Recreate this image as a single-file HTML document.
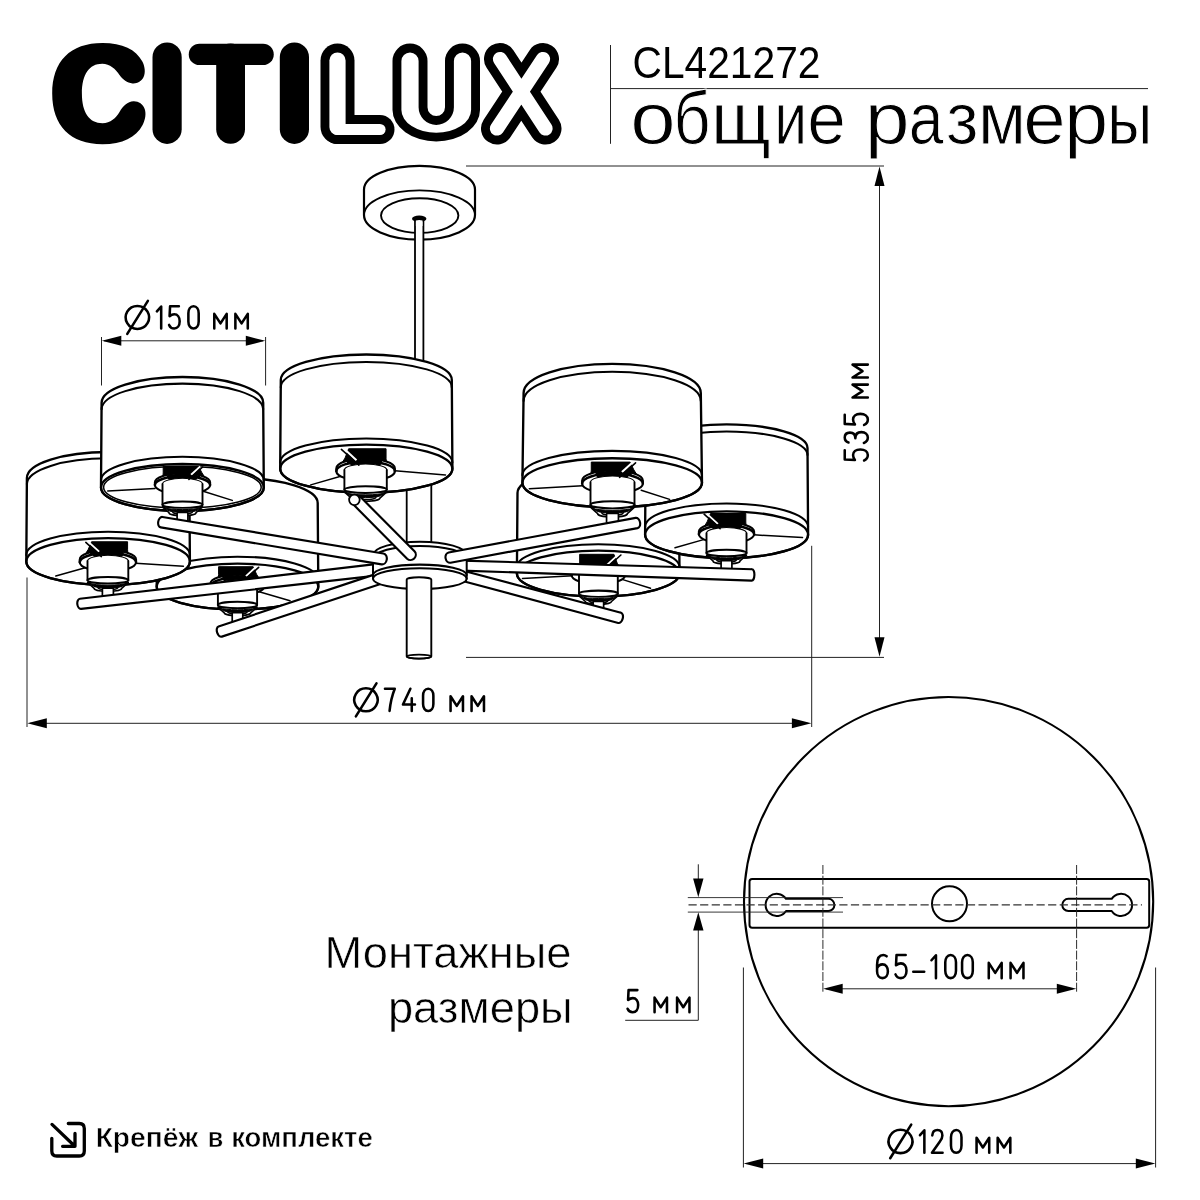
<!DOCTYPE html>
<html lang="ru"><head><meta charset="utf-8"><title>CL421272</title>
<style>
html,body{margin:0;padding:0;background:#fff}
body{width:1200px;height:1200px;overflow:hidden;position:relative}
svg{display:block;position:absolute;left:0;top:0;will-change:transform;filter:grayscale(1)}
text{font-family:"Liberation Sans",sans-serif;fill:#000}
.o{fill:#fff;stroke:#000;stroke-width:2.3;stroke-linejoin:round;stroke-linecap:round}
.l{fill:none;stroke:#000;stroke-width:2.05;stroke-linejoin:round;stroke-linecap:round}
.t{fill:none;stroke:#000;stroke-width:1.5;stroke-linecap:round}
.k{fill:#000;stroke:#000;stroke-width:1;stroke-linejoin:round}
</style></head><body>
<svg width="1200" height="1200" viewBox="0 0 1200 1200">
<rect width="1200" height="1200" fill="#fff"/>

<!-- logo -->
<g fill="none" stroke="#000" stroke-linecap="round" stroke-linejoin="round">
<path fill="#000" stroke="none" d="M102.5,42.9 C122.5,42.9 136,49.5 142.2,61.2 C144.8,66 145.8,72.5 143.6,77 C141.5,81.5 137,83.8 132.5,83.4 C127,83 123,79.5 119.5,75 C115.5,69 110,63.75 102.2,63.75 C89.2,63.75 81.9,74.5 81.9,93.5 C81.9,112.5 89.3,123.2 102.5,123.2 C110.5,123.2 116,118 119.5,112 C123,106 127.5,101.4 133.5,101.2 C138.5,101 143,104 144.7,109 C146.3,113.5 145.4,119.5 142.6,125 C136,137.5 122.5,144.2 102.5,144.2 C70.3,144.2 52.2,125.9 52.2,93.5 C52.2,61.1 70.3,42.9 102.5,42.9 Z"/>
<path d="M167.1,57 L167.1,129.3" stroke-width="29.2"/>
<path d="M199.4,54.4 L263.1,54.4" stroke-width="21.3"/>
<path d="M230.6,58 L230.6,129.3" stroke-width="28.8"/>
<path d="M294.4,57 L294.4,129.3" stroke-width="29.2"/>
<path d="M337.5,60.5 L337.5,127" stroke-width="34"/>
<path d="M337.5,129.5 L380,129.5" stroke-width="29"/>
<path fill="#000" stroke="none" d="M392.5,61 A17.5,17.5 0 0 1 427.5,61 L427.5,107.25 A8.75,8.75 0 0 0 445,107.25 L445,61 A17.5,17.5 0 0 1 480,61 L480,110 A43.75,31.5 0 0 1 392.5,110 Z"/>
<path d="M500,59 L545.5,128.5 M543,59 L497,128.5" stroke-width="32"/>
<path d="M337.5,60.5 L337.5,127" stroke="#fff" stroke-width="16.2"/>
<path d="M337.5,129.5 L380,129.5" stroke="#fff" stroke-width="11.2"/>
<path fill="#fff" stroke="none" d="M401.4,61 A8.6,8.6 0 0 1 418.6,61 L418.6,107.25 A17.65,17.65 0 0 0 453.9,107.25 L453.9,61 A8.6,8.6 0 0 1 471.1,61 L471.1,110 A34.85,22.7 0 0 1 401.4,110 Z"/>
<path d="M500,59 L545.5,128.5 M543,59 L497,128.5" stroke="#fff" stroke-width="14.2"/>
</g>
<!-- header -->
<line x1="610.50" y1="45.00" x2="610.50" y2="143.80" stroke="#222" stroke-width="1.0" />
<line x1="610.50" y1="88.60" x2="1148.00" y2="88.60" stroke="#222" stroke-width="1.0" />
<text x="632.6" y="77.6" font-size="44.4" textLength="187.8" lengthAdjust="spacingAndGlyphs">CL421272</text>
<g font-size="75" stroke="#fff" stroke-width="1.0"><text transform="translate(630.33,144.2) scale(1.0891,1)" style="paint-order:fill stroke">о</text><text transform="translate(673.45,144.2) scale(0.8611,1)" style="paint-order:fill stroke">б</text><text transform="translate(710.88,144.2) scale(0.9687,1)" style="paint-order:fill stroke">щ</text><text transform="translate(774.18,144.2) scale(0.7843,1)" style="paint-order:fill stroke">и</text><text transform="translate(807.22,144.2) scale(0.9263,1)" style="paint-order:fill stroke">е</text><text transform="translate(864.65,144.2) scale(1.0769,1)" style="paint-order:fill stroke">р</text><text transform="translate(908.75,144.2) scale(0.8333,1)" style="paint-order:fill stroke">а</text><text transform="translate(946.08,144.2) scale(0.9465,1)" style="paint-order:fill stroke">з</text><text transform="translate(977.96,144.2) scale(0.9309,1)" style="paint-order:fill stroke">м</text><text transform="translate(1023.20,144.2) scale(1.0175,1)" style="paint-order:fill stroke">е</text><text transform="translate(1063.97,144.2) scale(1.0623,1)" style="paint-order:fill stroke">р</text><text transform="translate(1107.17,144.2) scale(0.8376,1)" style="paint-order:fill stroke">ы</text></g>
<!-- dimension lines -->
<line x1="466.00" y1="166.00" x2="884.00" y2="166.00" stroke="#222" stroke-width="1.0" />
<line x1="466.00" y1="657.40" x2="884.00" y2="657.40" stroke="#222" stroke-width="1.0" />
<line x1="879.50" y1="170.00" x2="879.50" y2="653.00" stroke="#222" stroke-width="1.0" />
<polygon points="879.50,166.60 884.50,186.10 874.50,186.10" fill="#000"/>
<polygon points="879.50,656.80 874.50,637.30 884.50,637.30" fill="#000"/>
<line x1="27.00" y1="577.50" x2="27.00" y2="727.00" stroke="#222" stroke-width="1.0" />
<line x1="811.70" y1="545.80" x2="811.70" y2="727.00" stroke="#222" stroke-width="1.0" />
<line x1="30.00" y1="723.30" x2="808.00" y2="723.30" stroke="#222" stroke-width="1.0" />
<polygon points="27.30,723.30 46.80,718.30 46.80,728.30" fill="#000"/>
<polygon points="811.40,723.30 791.90,728.30 791.90,718.30" fill="#000"/>
<line x1="101.50" y1="337.00" x2="101.50" y2="385.50" stroke="#222" stroke-width="1.0" />
<line x1="265.60" y1="337.00" x2="265.60" y2="385.50" stroke="#222" stroke-width="1.0" />
<line x1="104.00" y1="340.80" x2="263.00" y2="340.80" stroke="#222" stroke-width="1.0" />
<polygon points="101.80,340.80 121.30,335.80 121.30,345.80" fill="#000"/>
<polygon points="265.30,340.80 245.80,345.80 245.80,335.80" fill="#000"/>
<g fill="none" stroke="#000" stroke-width="2.55" stroke-linecap="round" stroke-linejoin="round"><path transform="translate(125.68,306.33) scale(1.0)" vector-effect="non-scaling-stroke" d="M11.7,-0.40000000000000036 A11.7,11.5 0 1 1 11.69,-0.40000000000000036 Z M1.6,27.6 L22.2,-5.4"/><path transform="translate(156.88,306.33) scale(1.0)" vector-effect="non-scaling-stroke" d="M0,5.0 L4.3,0.2 L4.3,22.2"/><path transform="translate(169.08,306.33) scale(1.0)" vector-effect="non-scaling-stroke" d="M9.8,0 L1.0,0 L0.5,9.8 C2,8.6 3.6,8 5.2,8 C8.4,8 10.6,10.6 10.6,15 C10.6,19.4 8.4,22.2 5.2,22.2 C2.8,22.2 0.9,20.8 0,18.6"/><path transform="translate(188.38,306.33) scale(1.0)" vector-effect="non-scaling-stroke" d="M5.15,0 C8.3,0 10.3,3 10.3,7 L10.3,15.2 C10.3,19.2 8.3,22.2 5.15,22.2 C2,22.2 0,19.2 0,15.2 L0,7 C0,3 2,0 5.15,0 Z"/><path transform="translate(214.28,306.33) scale(1.0)" vector-effect="non-scaling-stroke" d="M0,22.2 L0,7.5 L6.2,17.1 L12.4,7.5 L12.4,22.2"/><path transform="translate(235.38,306.33) scale(1.0)" vector-effect="non-scaling-stroke" d="M0,22.2 L0,7.5 L6.2,17.1 L12.4,7.5 L12.4,22.2"/></g>
<g fill="none" stroke="#000" stroke-width="2.55" stroke-linecap="round" stroke-linejoin="round"><path transform="translate(354.27,688.73) scale(1.0)" vector-effect="non-scaling-stroke" d="M11.7,-0.40000000000000036 A11.7,11.5 0 1 1 11.69,-0.40000000000000036 Z M1.6,27.6 L22.2,-5.4"/><path transform="translate(384.97,688.73) scale(1.0)" vector-effect="non-scaling-stroke" d="M0,0 L9.8,0 C7.4,6 5.4,14 4.6,22.2"/><path transform="translate(402.97,688.73) scale(1.0)" vector-effect="non-scaling-stroke" d="M7.4,0 L0,15.8 L12.0,15.8 M8.8,9.6 L8.8,22.2"/><path transform="translate(423.07,688.73) scale(1.0)" vector-effect="non-scaling-stroke" d="M5.15,0 C8.3,0 10.3,3 10.3,7 L10.3,15.2 C10.3,19.2 8.3,22.2 5.15,22.2 C2,22.2 0,19.2 0,15.2 L0,7 C0,3 2,0 5.15,0 Z"/><path transform="translate(450.57,688.73) scale(1.0)" vector-effect="non-scaling-stroke" d="M0,22.2 L0,7.5 L6.2,17.1 L12.4,7.5 L12.4,22.2"/><path transform="translate(471.57,688.73) scale(1.0)" vector-effect="non-scaling-stroke" d="M0,22.2 L0,7.5 L6.2,17.1 L12.4,7.5 L12.4,22.2"/></g>
<g transform="translate(869.1,461.8) rotate(-90)"><g fill="none" stroke="#000" stroke-width="2.55" stroke-linecap="round" stroke-linejoin="round"><path transform="translate(1.27,-24.36) scale(1.04)" vector-effect="non-scaling-stroke" d="M9.8,0 L1.0,0 L0.5,9.8 C2,8.6 3.6,8 5.2,8 C8.4,8 10.6,10.6 10.6,15 C10.6,19.4 8.4,22.2 5.2,22.2 C2.8,22.2 0.9,20.8 0,18.6"/><path transform="translate(18.88,-24.36) scale(1.04)" vector-effect="non-scaling-stroke" d="M0.4,3.6 C1.2,1.2 3,0 5.2,0 C8,0 9.9,1.9 9.9,5 C9.9,8.2 7.8,10.2 4.6,10.2 C8.2,10.2 10.4,12.4 10.4,16 C10.4,19.8 8.2,22.2 5.1,22.2 C2.6,22.2 0.8,20.8 0,18.4"/><path transform="translate(36.88,-24.36) scale(1.04)" vector-effect="non-scaling-stroke" d="M9.8,0 L1.0,0 L0.5,9.8 C2,8.6 3.6,8 5.2,8 C8.4,8 10.6,10.6 10.6,15 C10.6,19.4 8.4,22.2 5.2,22.2 C2.8,22.2 0.9,20.8 0,18.6"/><path transform="translate(64.28,-24.36) scale(1.04)" vector-effect="non-scaling-stroke" d="M0,22.2 L0,7.5 L6.2,17.1 L12.4,7.5 L12.4,22.2"/><path transform="translate(84.28,-24.36) scale(1.04)" vector-effect="non-scaling-stroke" d="M0,22.2 L0,7.5 L6.2,17.1 L12.4,7.5 L12.4,22.2"/></g></g>
<!-- chandelier -->
<path class="o" style="stroke-width:2.2" d="M364,189.5 A55.5,23.6 0 0 1 475,189.5 L475,215 A55.5,24.6 0 0 1 364,215 Z"/>
<path class="l" style="stroke-width:1.9" d="M364,215 A55.5,24.6 0 0 1 475,215"/>
<ellipse class="l" style="stroke-width:1.9" cx="419.7" cy="215.6" rx="38.7" ry="17.3"/>
<rect x="415" y="219" width="8.4" height="150" fill="#fff" stroke="none"/>
<path class="l" style="stroke-width:1.8" d="M415,219 L415,370 M423.4,219 L423.4,370"/>
<ellipse cx="419.2" cy="218.8" rx="7.2" ry="3.2" fill="#000" stroke="none"/>
<path d="M415.9,226 L415.9,220.6 Q419.2,219.2 422.5,220.6 L422.5,226 Z" fill="#fff" stroke="none"/>
<rect x="406.7" y="470" width="24.6" height="90" fill="#fff" stroke="none"/>
<path class="l" style="stroke-width:1.8" d="M406.7,470 L406.7,556 M431.3,470 L431.3,556"/>
<path class="o" style="stroke-width:2.35" d="M157.30,503.00 A80.20,25.00 0 0 1 317.70,503.00 L318.30,586.60 A80.80,22.90 0 0 1 156.70,586.60 Z"/><ellipse class="l" cx="237.50" cy="586.60" rx="80.80" ry="22.90" style="stroke-width:2.35"/><path class="l" d="M156.70,579.60 A80.80,22.90 0 0 1 318.30,579.60"/>
<line class="t" x1="259.2" y1="591.7" x2="290" y2="600.8"/><path class="o" style="stroke-width:1.6" d="M217.90,607.12 L224.27,612.80 A13.23,2.94 0 0 0 250.73,612.80 L257.10,607.12 Z"/><path class="k" d="M219.40,607.71 A19.60,3.33 0 0 0 255.60,607.71 L251.71,610.45 A14.60,2.74 0 0 1 223.29,610.45 Z"/><path class="t" d="M227.90,612.02 A9.60,2.16 0 0 0 247.10,612.02"/><path class="o" style="stroke-width:1.7" d="M232.21,622.00 L232.21,613.59 Q232.21,612.61 233.21,612.61 L241.79,612.61 Q242.79,612.61 242.79,613.59 L242.79,622.00"/><path class="k" d="M253.18,566.70 L218.59,566.70 L218.59,574.39 L218.10,580.66 L260.53,580.66 L256.51,574.19 Z"/><path class="o" style="stroke-width:2.1" d="M210.45,583.60 A27.05,8.82 0 0 1 264.55,583.60 L264.55,586.34 A27.05,8.82 0 0 1 210.45,586.34 Z"/><polygon points="254.65,577.08 252.63,576.59 250.61,576.18 248.59,575.85 246.56,575.59 244.54,575.38 242.52,575.23 240.50,575.13 238.48,575.09 236.46,575.09 234.44,575.14 232.42,575.24 230.40,575.39 228.37,575.60 226.35,575.86 224.33,576.20 222.31,576.60 222.31,579.05 224.33,581.30 226.35,580.85 228.37,580.51 230.40,580.25 232.42,580.07 234.44,579.95 236.46,579.89 238.48,579.89 240.50,579.94 242.52,580.06 244.54,580.25 246.56,580.50 248.59,580.84 250.61,581.29 252.63,579.03 254.65,579.52" fill="#000"/><line x1="256.19" y1="566.80" x2="245.93" y2="576.15" stroke="#fff" stroke-width="1.86"/><path class="l" style="stroke-width:2.5" d="M210.45,586.34 A27.05,8.82 0 0 1 264.55,586.34"/><path d="M217.90,585.17 L217.90,604.96 A19.60,3.14 0 0 0 257.10,604.96 L257.10,585.17 A19.60,5.49 0 0 0 217.90,585.17 Z" fill="#fff" stroke="none"/><path class="l" style="stroke-width:1.9" d="M217.90,585.17 L217.90,604.96 A19.60,3.14 0 0 0 257.10,604.96 L257.10,585.17"/><path class="l" style="stroke-width:1.1" d="M217.90,585.17 A19.60,5.49 0 0 1 257.10,585.17"/><path class="l" style="stroke-width:2.1" d="M217.90,604.96 A19.60,3.14 0 0 1 257.10,604.96"/><line x1="258.62" y1="567.40" x2="243.77" y2="580.86" stroke="#000" stroke-width="1.6" stroke-linecap="round"/>
<path class="o" style="stroke-width:2.35" d="M517.50,493.00 A80.70,25.00 0 0 1 678.90,493.00 L679.50,573.60 A81.30,22.90 0 0 1 516.90,573.60 Z"/><ellipse class="l" cx="598.20" cy="573.60" rx="81.30" ry="22.90" style="stroke-width:2.35"/><path class="l" d="M516.90,567.15 A81.30,22.90 0 0 1 679.50,567.15"/>
<line class="t" x1="522.5" y1="578.5" x2="577.2" y2="575.4"/><line class="t" x1="621.2" y1="579.1" x2="650.5" y2="588.25"/><path class="o" style="stroke-width:1.6" d="M579.00,595.88 L585.30,601.50 A13.09,2.91 0 0 0 611.50,601.50 L617.80,595.88 Z"/><path class="k" d="M580.50,596.46 A19.40,3.30 0 0 0 616.30,596.46 L612.46,599.17 A14.40,2.72 0 0 1 584.34,599.17 Z"/><path class="t" d="M588.89,600.73 A9.51,2.13 0 0 0 607.91,600.73"/><path class="o" style="stroke-width:1.7" d="M593.16,611.00 L593.16,602.28 Q593.16,601.31 594.16,601.31 L602.64,601.31 Q603.64,601.31 603.64,602.28 L603.64,611.00"/><path class="k" d="M613.92,554.30 L579.68,554.30 L579.68,563.38 L579.19,569.59 L621.19,569.59 L617.22,563.19 Z"/><path class="o" style="stroke-width:2.1" d="M571.63,572.50 A26.77,8.73 0 0 1 625.17,572.50 L625.17,575.22 A26.77,8.73 0 0 1 571.63,575.22 Z"/><polygon points="615.38,566.05 613.37,565.56 611.37,565.16 609.37,564.84 607.37,564.57 605.37,564.37 603.37,564.22 601.37,564.12 599.37,564.08 597.37,564.08 595.37,564.13 593.37,564.23 591.37,564.38 589.37,564.58 587.37,564.85 585.37,565.17 583.37,565.58 583.37,567.99 585.37,570.23 587.37,569.78 589.37,569.44 591.37,569.19 593.37,569.01 595.37,568.89 597.37,568.83 599.37,568.83 601.37,568.88 603.37,569.00 605.37,569.18 607.37,569.44 609.37,569.77 611.37,570.21 613.37,567.98 615.38,568.47" fill="#000"/><line x1="618.51" y1="554.40" x2="606.74" y2="565.13" stroke="#fff" stroke-width="1.84"/><path class="l" style="stroke-width:2.5" d="M571.63,575.22 A26.77,8.73 0 0 1 625.17,575.22"/><path d="M579.00,574.05 L579.00,593.74 A19.40,3.10 0 0 0 617.80,593.74 L617.80,574.05 A19.40,5.43 0 0 0 579.00,574.05 Z" fill="#fff" stroke="none"/><path class="l" style="stroke-width:1.9" d="M579.00,574.05 L579.00,593.74 A19.40,3.10 0 0 0 617.80,593.74 L617.80,574.05"/><path class="l" style="stroke-width:1.1" d="M579.00,574.05 A19.40,5.43 0 0 1 617.80,574.05"/><path class="l" style="stroke-width:2.1" d="M579.00,593.74 A19.40,3.10 0 0 1 617.80,593.74"/><line x1="620.92" y1="555.00" x2="604.61" y2="569.78" stroke="#000" stroke-width="1.6" stroke-linecap="round"/>
<path class="o" style="stroke-width:2.35" d="M26.90,478.00 A81.20,26.00 0 0 1 189.30,478.00 L189.90,561.50 A81.80,23.40 0 0 1 26.30,561.50 Z"/><path class="l" d="M26.90,484.30 A81.20,26.00 0 0 1 189.30,484.30"/><ellipse class="l" cx="108.10" cy="561.50" rx="81.80" ry="23.40" style="stroke-width:2.35"/><path class="l" d="M26.30,555.10 A81.80,23.40 0 0 1 189.90,555.10"/>
<line class="t" x1="55.8" y1="576" x2="85.2" y2="567.8"/><line class="t" x1="135.6" y1="563.2" x2="183.4" y2="566.3"/><path class="o" style="stroke-width:1.6" d="M87.50,582.45 L94.13,588.37 A13.77,3.06 0 0 0 121.67,588.37 L128.30,582.45 Z"/><path class="k" d="M89.00,583.06 A20.40,3.47 0 0 0 126.80,583.06 L122.69,585.92 A15.40,2.86 0 0 1 93.11,585.92 Z"/><path class="t" d="M97.90,587.55 A10.00,2.24 0 0 0 117.90,587.55"/><path class="o" style="stroke-width:1.7" d="M102.39,598.00 L102.39,589.18 Q102.39,588.16 103.39,588.16 L112.41,588.16 Q113.41,588.16 113.41,589.18 L113.41,598.00"/><path class="k" d="M91.58,541.75 L127.59,541.75 L127.59,549.81 L128.10,556.34 L83.93,556.34 L88.11,549.61 Z"/><path class="o" style="stroke-width:2.1" d="M79.75,559.40 A28.15,9.18 0 0 1 136.05,559.40 L136.05,562.26 A28.15,9.18 0 0 1 79.75,562.26 Z"/><polygon points="90.05,552.60 92.15,552.09 94.26,551.67 96.36,551.33 98.47,551.05 100.57,550.84 102.67,550.68 104.78,550.58 106.88,550.53 108.98,550.53 111.09,550.58 113.19,550.68 115.30,550.84 117.40,551.06 119.50,551.34 121.61,551.68 123.71,552.10 123.71,554.66 121.61,557.00 119.50,556.53 117.40,556.18 115.30,555.91 113.19,555.72 111.09,555.59 108.98,555.53 106.88,555.53 104.78,555.59 102.67,555.71 100.57,555.90 98.47,556.17 96.36,556.52 94.26,556.99 92.15,554.65 90.05,555.16" fill="#000"/><line x1="88.38" y1="541.85" x2="99.13" y2="551.65" stroke="#fff" stroke-width="1.94"/><path class="l" style="stroke-width:2.5" d="M79.75,562.26 A28.15,9.18 0 0 1 136.05,562.26"/><path d="M87.50,561.03 L87.50,580.21 A20.40,3.26 0 0 0 128.30,580.21 L128.30,561.03 A20.40,5.71 0 0 0 87.50,561.03 Z" fill="#fff" stroke="none"/><path class="l" style="stroke-width:1.9" d="M87.50,561.03 L87.50,580.21 A20.40,3.26 0 0 0 128.30,580.21 L128.30,561.03"/><path class="l" style="stroke-width:1.1" d="M87.50,561.03 A20.40,5.71 0 0 1 128.30,561.03"/><path class="l" style="stroke-width:2.1" d="M87.50,580.21 A20.40,3.26 0 0 1 128.30,580.21"/><line x1="85.82" y1="542.45" x2="101.37" y2="556.54" stroke="#000" stroke-width="1.6" stroke-linecap="round"/>
<path class="o" style="stroke-width:2.35" d="M645.70,448.00 A80.90,23.60 0 0 1 807.50,448.00 L808.10,534.70 A81.50,23.40 0 0 1 645.10,534.70 Z"/><path class="l" d="M645.70,455.10 A80.90,23.60 0 0 1 807.50,455.10"/><ellipse class="l" cx="726.60" cy="534.70" rx="81.50" ry="23.40" style="stroke-width:2.35"/><path class="l" d="M645.10,526.85 A81.50,23.40 0 0 1 808.10,526.85"/>
<line class="t" x1="675" y1="547.7" x2="704.4" y2="539.4"/><line class="t" x1="753.9" y1="534.8" x2="802.5" y2="537.6"/><path class="o" style="stroke-width:1.6" d="M706.50,555.10 L713.00,560.90 A13.50,3.00 0 0 0 740.00,560.90 L746.50,555.10 Z"/><path class="k" d="M708.00,555.70 A20.00,3.40 0 0 0 745.00,555.70 L741.00,558.50 A15.00,2.80 0 0 1 712.00,558.50 Z"/><path class="t" d="M716.70,560.10 A9.80,2.20 0 0 0 736.30,560.10"/><path class="o" style="stroke-width:1.7" d="M721.10,570.00 L721.10,561.70 Q721.10,560.70 722.10,560.70 L730.90,560.70 Q731.90,560.70 731.90,561.70 L731.90,570.00"/><path class="k" d="M710.50,513.50 L745.80,513.50 L745.80,522.10 L746.30,528.50 L703.00,528.50 L707.10,521.90 Z"/><path class="o" style="stroke-width:2.1" d="M698.90,531.50 A27.60,9.00 0 0 1 754.10,531.50 L754.10,534.30 A27.60,9.00 0 0 1 698.90,534.30 Z"/><polygon points="709.00,524.84 711.06,524.34 713.12,523.93 715.19,523.59 717.25,523.32 719.31,523.11 721.38,522.96 723.44,522.86 725.50,522.81 727.56,522.81 729.62,522.86 731.69,522.96 733.75,523.12 735.81,523.33 737.88,523.60 739.94,523.94 742.00,524.35 742.00,526.85 739.94,529.15 737.88,528.69 735.81,528.34 733.75,528.08 731.69,527.89 729.62,527.77 727.56,527.71 725.50,527.71 723.44,527.77 721.38,527.89 719.31,528.07 717.25,528.33 715.19,528.68 713.12,529.14 711.06,526.84 709.00,527.34" fill="#000"/><line x1="706.60" y1="513.60" x2="717.90" y2="523.90" stroke="#fff" stroke-width="1.90"/><path class="l" style="stroke-width:2.5" d="M698.90,534.30 A27.60,9.00 0 0 1 754.10,534.30"/><path d="M706.50,533.10 L706.50,552.90 A20.00,3.20 0 0 0 746.50,552.90 L746.50,533.10 A20.00,5.60 0 0 0 706.50,533.10 Z" fill="#fff" stroke="none"/><path class="l" style="stroke-width:1.9" d="M706.50,533.10 L706.50,552.90 A20.00,3.20 0 0 0 746.50,552.90 L746.50,533.10"/><path class="l" style="stroke-width:1.1" d="M706.50,533.10 A20.00,5.60 0 0 1 746.50,533.10"/><path class="l" style="stroke-width:2.1" d="M706.50,552.90 A20.00,3.20 0 0 1 746.50,552.90"/><line x1="704.10" y1="514.20" x2="720.10" y2="528.70" stroke="#000" stroke-width="1.6" stroke-linecap="round"/>
<path class="o" style="stroke-width:2.35" d="M101.60,402.70 A80.80,25.70 0 0 1 263.20,402.70 L263.80,487.50 A81.40,23.50 0 0 1 101.00,487.50 Z"/><path class="l" d="M101.60,409.30 A80.80,25.70 0 0 1 263.20,409.30"/><ellipse class="l" cx="182.40" cy="487.50" rx="81.40" ry="23.50" style="stroke-width:2.35"/><path class="l" d="M101.00,480.30 A81.40,23.50 0 0 1 263.80,480.30"/><ellipse class="l" cx="182.40" cy="487.20" rx="78.80" ry="20.90" style="stroke-width:1.5"/>
<line class="t" x1="107.75" y1="490.9" x2="155" y2="488.6"/><line class="t" x1="203.2" y1="491.3" x2="232.3" y2="500.4"/><path class="o" style="stroke-width:1.6" d="M162.50,506.90 L169.00,512.70 A13.50,3.00 0 0 0 196.00,512.70 L202.50,506.90 Z"/><path class="k" d="M164.00,507.50 A20.00,3.40 0 0 0 201.00,507.50 L197.00,510.30 A15.00,2.80 0 0 1 168.00,510.30 Z"/><path class="t" d="M172.70,511.90 A9.80,2.20 0 0 0 192.30,511.90"/><path class="o" style="stroke-width:1.7" d="M177.10,521.00 L177.10,513.50 Q177.10,512.50 178.10,512.50 L186.90,512.50 Q187.90,512.50 187.90,513.50 L187.90,521.00"/><path class="k" d="M198.50,466.30 L163.20,466.30 L163.20,472.90 L162.70,479.30 L206.00,479.30 L201.90,472.70 Z"/><path class="o" style="stroke-width:2.1" d="M154.90,482.30 A27.60,9.00 0 0 1 210.10,482.30 L210.10,485.10 A27.60,9.00 0 0 1 154.90,485.10 Z"/><polygon points="200.00,475.64 197.94,475.14 195.88,474.73 193.81,474.39 191.75,474.12 189.69,473.91 187.62,473.76 185.56,473.66 183.50,473.61 181.44,473.61 179.38,473.66 177.31,473.76 175.25,473.92 173.19,474.13 171.12,474.40 169.06,474.74 167.00,475.15 167.00,477.65 169.06,479.95 171.12,479.49 173.19,479.14 175.25,478.88 177.31,478.69 179.38,478.57 181.44,478.51 183.50,478.51 185.56,478.57 187.62,478.69 189.69,478.87 191.75,479.13 193.81,479.48 195.88,479.94 197.94,477.64 200.00,478.14" fill="#000"/><line x1="200.20" y1="466.40" x2="191.10" y2="474.70" stroke="#fff" stroke-width="1.90"/><path class="l" style="stroke-width:2.5" d="M154.90,485.10 A27.60,9.00 0 0 1 210.10,485.10"/><path d="M162.50,483.90 L162.50,504.70 A20.00,3.20 0 0 0 202.50,504.70 L202.50,483.90 A20.00,5.60 0 0 0 162.50,483.90 Z" fill="#fff" stroke="none"/><path class="l" style="stroke-width:1.9" d="M162.50,483.90 L162.50,504.70 A20.00,3.20 0 0 0 202.50,504.70 L202.50,483.90"/><path class="l" style="stroke-width:1.1" d="M162.50,483.90 A20.00,5.60 0 0 1 202.50,483.90"/><path class="l" style="stroke-width:2.1" d="M162.50,504.70 A20.00,3.20 0 0 1 202.50,504.70"/><line x1="202.70" y1="467.00" x2="188.90" y2="479.50" stroke="#000" stroke-width="1.6" stroke-linecap="round"/>
<path class="o" style="stroke-width:2.35" d="M523.60,393.00 A88.60,29.20 0 0 1 700.80,393.00 L702.00,482.75 A89.80,24.50 0 0 1 522.40,482.75 Z"/><path class="l" d="M523.60,400.90 A88.60,29.20 0 0 1 700.80,400.90"/><ellipse class="l" cx="612.20" cy="482.75" rx="89.80" ry="24.50" style="stroke-width:2.35"/><path class="l" d="M522.40,475.35 A89.80,24.50 0 0 1 702.00,475.35"/>
<line class="t" x1="529.3" y1="488.8" x2="582.5" y2="485.7"/><line class="t" x1="641.2" y1="490.25" x2="669.6" y2="499.4"/><path class="o" style="stroke-width:1.6" d="M590.50,507.24 L597.65,513.62 A14.85,3.30 0 0 0 627.35,513.62 L634.50,507.24 Z"/><path class="k" d="M592.00,507.90 A22.00,3.74 0 0 0 633.00,507.90 L628.45,510.98 A17.00,3.08 0 0 1 596.55,510.98 Z"/><path class="t" d="M601.72,512.74 A10.78,2.42 0 0 0 623.28,512.74"/><path class="o" style="stroke-width:1.7" d="M606.56,522.00 L606.56,514.50 Q606.56,513.40 607.56,513.40 L617.44,513.40 Q618.44,513.40 618.44,514.50 L618.44,522.00"/><path class="k" d="M630.10,462.10 L591.27,462.10 L591.27,470.06 L590.72,477.10 L638.35,477.10 L633.84,469.84 Z"/><path class="o" style="stroke-width:2.1" d="M582.14,480.40 A30.36,9.90 0 0 1 642.86,480.40 L642.86,483.48 A30.36,9.90 0 0 1 582.14,483.48 Z"/><polygon points="631.75,473.04 629.48,472.49 627.21,472.04 624.94,471.67 622.67,471.37 620.41,471.14 618.14,470.97 615.87,470.86 613.60,470.81 611.33,470.81 609.06,470.86 606.79,470.98 604.52,471.15 602.26,471.38 599.99,471.68 597.72,472.05 595.45,472.51 595.45,475.29 597.72,477.80 599.99,477.29 602.26,476.91 604.52,476.62 606.79,476.41 609.06,476.28 611.33,476.21 613.60,476.21 615.87,476.27 618.14,476.41 620.41,476.61 622.67,476.90 624.94,477.28 627.21,477.78 629.48,475.27 631.75,475.82" fill="#000"/><line x1="632.75" y1="462.20" x2="621.96" y2="472.04" stroke="#fff" stroke-width="2.09"/><path class="l" style="stroke-width:2.5" d="M582.14,483.48 A30.36,9.90 0 0 1 642.86,483.48"/><path d="M590.50,482.16 L590.50,504.82 A22.00,3.52 0 0 0 634.50,504.82 L634.50,482.16 A22.00,6.16 0 0 0 590.50,482.16 Z" fill="#fff" stroke="none"/><path class="l" style="stroke-width:1.9" d="M590.50,482.16 L590.50,504.82 A22.00,3.52 0 0 0 634.50,504.82 L634.50,482.16"/><path class="l" style="stroke-width:1.1" d="M590.50,482.16 A22.00,6.16 0 0 1 634.50,482.16"/><path class="l" style="stroke-width:2.1" d="M590.50,504.82 A22.00,3.52 0 0 1 634.50,504.82"/><line x1="635.57" y1="462.80" x2="619.54" y2="477.32" stroke="#000" stroke-width="1.6" stroke-linecap="round"/>
<path class="o" style="stroke-width:2.35" d="M280.80,380.00 A85.50,25.50 0 0 1 451.80,380.00 L452.40,468.70 A86.10,24.10 0 0 1 280.20,468.70 Z"/><path class="l" d="M280.80,387.40 A85.50,25.50 0 0 1 451.80,387.40"/><ellipse class="l" cx="366.30" cy="468.70" rx="86.10" ry="24.10" style="stroke-width:2.35"/><path class="l" d="M280.20,462.60 A86.10,24.10 0 0 1 452.40,462.60"/>
<line class="t" x1="310.75" y1="484.9" x2="342.5" y2="475.8"/><line class="t" x1="395" y1="470.8" x2="445.5" y2="474.9"/><path class="o" style="stroke-width:1.6" d="M344.40,491.94 L351.29,498.09 A14.31,3.18 0 0 0 379.91,498.09 L386.80,491.94 Z"/><path class="k" d="M345.90,492.58 A21.20,3.60 0 0 0 385.30,492.58 L380.97,495.55 A16.20,2.97 0 0 1 350.23,495.55 Z"/><path class="t" d="M355.21,497.24 A10.39,2.33 0 0 0 375.99,497.24"/><path class="k" d="M348.64,448.75 L386.06,448.75 L386.06,458.24 L386.59,465.02 L340.69,465.02 L345.04,458.02 Z"/><path class="o" style="stroke-width:2.1" d="M336.34,468.20 A29.26,9.54 0 0 1 394.86,468.20 L394.86,471.17 A29.26,9.54 0 0 1 336.34,471.17 Z"/><polygon points="347.05,461.12 349.24,460.59 351.42,460.16 353.61,459.80 355.80,459.51 357.98,459.29 360.17,459.13 362.35,459.02 364.54,458.97 366.73,458.97 368.91,459.02 371.10,459.13 373.29,459.30 375.47,459.52 377.66,459.81 379.84,460.17 382.03,460.61 382.03,463.27 379.84,465.70 377.66,465.21 375.47,464.84 373.29,464.56 371.10,464.36 368.91,464.23 366.73,464.17 364.54,464.17 362.35,464.23 360.17,464.36 357.98,464.56 355.80,464.83 353.61,465.20 351.42,465.68 349.24,463.26 347.05,463.79" fill="#000"/><line x1="344.09" y1="448.85" x2="356.48" y2="460.14" stroke="#fff" stroke-width="2.01"/><path class="l" style="stroke-width:2.5" d="M336.34,471.17 A29.26,9.54 0 0 1 394.86,471.17"/><path d="M344.40,469.90 L344.40,489.61 A21.20,3.39 0 0 0 386.80,489.61 L386.80,469.90 A21.20,5.94 0 0 0 344.40,469.90 Z" fill="#fff" stroke="none"/><path class="l" style="stroke-width:1.9" d="M344.40,469.90 L344.40,489.61 A21.20,3.39 0 0 0 386.80,489.61 L386.80,469.90"/><path class="l" style="stroke-width:1.1" d="M344.40,469.90 A21.20,5.94 0 0 1 386.80,469.90"/><path class="l" style="stroke-width:2.1" d="M344.40,489.61 A21.20,3.39 0 0 1 386.80,489.61"/><line x1="341.40" y1="449.45" x2="358.82" y2="465.23" stroke="#000" stroke-width="1.6" stroke-linecap="round"/>
<path d="M81.08,608.87 L376.66,575.66 L375.34,564.14 L79.92,598.73 A3.20,5.10 -6.54 0 0 81.08,608.87 Z" fill="#fff" stroke="none"/><path d="M81.08,608.87 L376.66,575.66 M375.34,564.14 L79.92,598.73 A3.20,5.10 -6.54 0 0 81.08,608.87" fill="none" stroke="#000" stroke-width="2.15" stroke-linecap="round" stroke-linejoin="round"/>
<path d="M221.87,636.63 L379.74,584.32 L376.26,573.88 L218.53,626.57 A3.20,5.30 -18.40 0 0 221.87,636.63 Z" fill="#fff" stroke="none"/><path d="M221.87,636.63 L379.74,584.32 M376.26,573.88 L218.53,626.57 A3.20,5.30 -18.40 0 0 221.87,636.63" fill="none" stroke="#000" stroke-width="2.15" stroke-linecap="round" stroke-linejoin="round"/>
<path d="M751.98,569.20 L462.16,560.60 L461.84,570.60 L751.62,580.60 A2.60,5.70 -178.16 0 0 751.98,569.20 Z" fill="#fff" stroke="none"/><path d="M751.98,569.20 L462.16,560.60 M461.84,570.60 L751.62,580.60 A2.60,5.70 -178.16 0 0 751.98,569.20" fill="none" stroke="#000" stroke-width="2.15" stroke-linecap="round" stroke-linejoin="round"/>
<path d="M620.97,612.68 L463.29,570.77 L460.71,580.43 L618.23,622.92 A3.20,5.30 -165.01 0 0 620.97,612.68 Z" fill="#fff" stroke="none"/><path d="M620.97,612.68 L463.29,570.77 M460.71,580.43 L618.23,622.92 A3.20,5.30 -165.01 0 0 620.97,612.68" fill="none" stroke="#000" stroke-width="2.15" stroke-linecap="round" stroke-linejoin="round"/>
<path class="o" style="stroke-width:2" d="M373,555 A46.85,13.3 0 0 1 466.7,555 L466.7,578.7 A46.85,10.4 0 0 1 373,578.7 Z"/>
<path class="l" d="M373,559.2 A46.85,13.3 0 0 1 466.7,559.2"/>
<path class="l" style="stroke-width:2" d="M373,578.7 A46.85,10.4 0 0 1 466.7,578.7"/>
<path class="l" d="M373,575.0 A46.85,10.4 0 0 1 466.7,575.0"/>
<path class="o" style="stroke-width:1.9" d="M406.7,579.5 A12.3,2.2 0 0 1 431.3,579.5 L431.3,656.6 A12.3,2 0 0 1 406.7,656.6 Z"/>
<ellipse class="l" style="stroke-width:1.6" cx="419" cy="656.6" rx="12.3" ry="2"/>
<path d="M160.73,527.43 L381.50,564.33 A4.40,5.50 9.44 0 0 383.30,553.47 L162.47,516.97 A3.40,5.30 9.44 0 0 160.73,527.43 Z" fill="#fff" stroke="none"/><path d="M160.73,527.43 L381.50,564.33 A4.40,5.50 9.44 0 0 383.30,553.47 L162.47,516.97 A3.40,5.30 9.44 0 0 160.73,527.43" fill="none" stroke="#000" stroke-width="2.15" stroke-linecap="round" stroke-linejoin="round"/>
<path d="M635.65,517.89 L448.65,552.49 A4.20,5.20 169.52 0 0 450.55,562.71 L637.55,528.11 A3.60,5.20 169.52 0 0 635.65,517.89 Z" fill="#fff" stroke="none"/><path d="M635.65,517.89 L448.65,552.49 A4.20,5.20 169.52 0 0 450.55,562.71 L637.55,528.11 A3.60,5.20 169.52 0 0 635.65,517.89" fill="none" stroke="#000" stroke-width="2.15" stroke-linecap="round" stroke-linejoin="round"/>
<path d="M352.71,503.86 L407.11,558.66 A5.00,5.20 45.21 0 0 414.49,551.34 L360.09,496.54 " fill="#fff" stroke="none"/><path d="M352.71,503.86 L407.11,558.66 A5.00,5.20 45.21 0 0 414.49,551.34 L360.09,496.54 " fill="none" stroke="#000" stroke-width="2.15" stroke-linecap="round" stroke-linejoin="round"/>
<circle class="o" style="stroke-width:1.8" cx="354.4" cy="499.8" r="5.3"/>
<!-- mounting -->
<circle cx="948.6" cy="901.6" r="204.6" fill="none" stroke="#000" stroke-width="2.1"/>
<rect x="749.5" y="878.9" width="399.7" height="48.8" rx="2.6" fill="none" stroke="#000" stroke-width="2"/>
<circle cx="949.5" cy="903.8" r="17.5" fill="none" stroke="#000" stroke-width="2"/>
<path d="M786.01,898.85 L828.35,898.85 A6.05,6.05 0 0 1 828.35,910.95 L786.01,910.95 A11.1,11.1 0 1 1 786.01,898.85 Z" fill="none" stroke="#000" stroke-width="2" stroke-linejoin="round"/>
<path d="M1111.69,898.85 L1068.35,898.85 A6.05,6.05 0 0 0 1068.35,910.95 L1111.69,910.95 A11.1,11.1 0 1 0 1111.69,898.85 Z" fill="none" stroke="#000" stroke-width="2" stroke-linejoin="round"/>
<line x1="688.5" y1="904.8" x2="1142" y2="904.8" stroke="#333" stroke-width="1.3" stroke-dasharray="8.2 3.4"/>
<line x1="687.80" y1="897.60" x2="843.00" y2="897.60" stroke="#222" stroke-width="0.9" />
<line x1="687.80" y1="912.10" x2="843.00" y2="912.10" stroke="#222" stroke-width="0.9" />
<line x1="698.30" y1="864.30" x2="698.30" y2="880.00" stroke="#222" stroke-width="1.0" />
<line x1="698.30" y1="928.00" x2="698.30" y2="1020.30" stroke="#222" stroke-width="1.0" />
<line x1="625.20" y1="1020.30" x2="698.30" y2="1020.30" stroke="#222" stroke-width="1.0" />
<polygon points="698.30,897.30 693.10,878.50 703.50,878.50" fill="#000"/>
<polygon points="698.30,912.30 703.50,930.50 693.10,930.50" fill="#000"/>
<line x1="822.9" y1="865" x2="822.9" y2="992" stroke="#222" stroke-width="0.95" stroke-dasharray="9 1.7"/>
<line x1="1076.6" y1="865" x2="1076.6" y2="992" stroke="#222" stroke-width="0.95" stroke-dasharray="9 1.7"/>
<line x1="826.00" y1="988.80" x2="1073.00" y2="988.80" stroke="#222" stroke-width="1.0" />
<polygon points="823.20,988.80 842.70,983.80 842.70,993.80" fill="#000"/>
<polygon points="1076.30,988.80 1056.80,993.80 1056.80,983.80" fill="#000"/>
<line x1="743.40" y1="967.50" x2="743.40" y2="1167.50" stroke="#222" stroke-width="1.0" />
<line x1="1155.60" y1="967.50" x2="1155.60" y2="1167.50" stroke="#222" stroke-width="1.0" />
<line x1="746.00" y1="1163.60" x2="1153.00" y2="1163.60" stroke="#222" stroke-width="1.0" />
<polygon points="743.70,1163.60 763.20,1158.60 763.20,1168.60" fill="#000"/>
<polygon points="1155.30,1163.60 1135.80,1168.60 1135.80,1158.60" fill="#000"/>
<g fill="none" stroke="#000" stroke-width="2.55" stroke-linecap="round" stroke-linejoin="round"><path transform="translate(877.07,955.04) scale(1.04)" vector-effect="non-scaling-stroke" d="M9.2,1.2 C8.2,0.4 7.2,0 6,0 C2.4,0 0,3.4 0,9.6 L0,15.6 C0,19.6 2,22.2 5.2,22.2 C8.4,22.2 10.4,19.6 10.4,15.6 C10.4,11.6 8.4,9 5.2,9 C2.8,9 1,10.4 0,12.8"/><path transform="translate(895.48,955.04) scale(1.04)" vector-effect="non-scaling-stroke" d="M9.8,0 L1.0,0 L0.5,9.8 C2,8.6 3.6,8 5.2,8 C8.4,8 10.6,10.6 10.6,15 C10.6,19.4 8.4,22.2 5.2,22.2 C2.8,22.2 0.9,20.8 0,18.6"/><path transform="translate(913.27,955.04) scale(1.04)" vector-effect="non-scaling-stroke" d="M0,16.0 L10.5,16.0"/><path transform="translate(931.48,955.04) scale(1.04)" vector-effect="non-scaling-stroke" d="M0,5.0 L4.3,0.2 L4.3,22.2"/><path transform="translate(945.27,955.04) scale(1.04)" vector-effect="non-scaling-stroke" d="M5.15,0 C8.3,0 10.3,3 10.3,7 L10.3,15.2 C10.3,19.2 8.3,22.2 5.15,22.2 C2,22.2 0,19.2 0,15.2 L0,7 C0,3 2,0 5.15,0 Z"/><path transform="translate(962.07,955.04) scale(1.04)" vector-effect="non-scaling-stroke" d="M5.15,0 C8.3,0 10.3,3 10.3,7 L10.3,15.2 C10.3,19.2 8.3,22.2 5.15,22.2 C2,22.2 0,19.2 0,15.2 L0,7 C0,3 2,0 5.15,0 Z"/><path transform="translate(988.77,955.04) scale(1.04)" vector-effect="non-scaling-stroke" d="M0,22.2 L0,7.5 L6.2,17.1 L12.4,7.5 L12.4,22.2"/><path transform="translate(1010.57,955.04) scale(1.04)" vector-effect="non-scaling-stroke" d="M0,22.2 L0,7.5 L6.2,17.1 L12.4,7.5 L12.4,22.2"/></g>
<g fill="none" stroke="#000" stroke-width="2.55" stroke-linecap="round" stroke-linejoin="round"><path transform="translate(888.57,1130.08) scale(1.02)" vector-effect="non-scaling-stroke" d="M11.7,-0.40000000000000036 A11.7,11.5 0 1 1 11.69,-0.40000000000000036 Z M1.6,27.6 L22.2,-5.4"/><path transform="translate(919.98,1130.08) scale(1.02)" vector-effect="non-scaling-stroke" d="M0,5.0 L4.3,0.2 L4.3,22.2"/><path transform="translate(931.98,1130.08) scale(1.02)" vector-effect="non-scaling-stroke" d="M0.3,5.2 C0.6,2 2.6,0 5.3,0 C8.2,0 10.2,2 10.2,5.2 C10.2,7.6 9.2,9.4 7.6,11.4 L0,22.2 L10.4,22.2"/><path transform="translate(950.98,1130.08) scale(1.02)" vector-effect="non-scaling-stroke" d="M5.15,0 C8.3,0 10.3,3 10.3,7 L10.3,15.2 C10.3,19.2 8.3,22.2 5.15,22.2 C2,22.2 0,19.2 0,15.2 L0,7 C0,3 2,0 5.15,0 Z"/><path transform="translate(976.57,1130.08) scale(1.02)" vector-effect="non-scaling-stroke" d="M0,22.2 L0,7.5 L6.2,17.1 L12.4,7.5 L12.4,22.2"/><path transform="translate(997.67,1130.08) scale(1.02)" vector-effect="non-scaling-stroke" d="M0,22.2 L0,7.5 L6.2,17.1 L12.4,7.5 L12.4,22.2"/></g>
<g fill="none" stroke="#000" stroke-width="2.55" stroke-linecap="round" stroke-linejoin="round"><path transform="translate(627.57,990.12) scale(1.0)" vector-effect="non-scaling-stroke" d="M9.8,0 L1.0,0 L0.5,9.8 C2,8.6 3.6,8 5.2,8 C8.4,8 10.6,10.6 10.6,15 C10.6,19.4 8.4,22.2 5.2,22.2 C2.8,22.2 0.9,20.8 0,18.6"/><path transform="translate(654.57,990.12) scale(1.0)" vector-effect="non-scaling-stroke" d="M0,22.2 L0,7.5 L6.2,17.1 L12.4,7.5 L12.4,22.2"/><path transform="translate(677.07,990.12) scale(1.0)" vector-effect="non-scaling-stroke" d="M0,22.2 L0,7.5 L6.2,17.1 L12.4,7.5 L12.4,22.2"/></g>
<g font-size="44.6" stroke="#fff" stroke-width="0.6"><text transform="translate(324.58,967.5) scale(1.0155,1)" style="paint-order:fill stroke">Монтажные</text></g>
<g font-size="44.6" stroke="#fff" stroke-width="0.6"><text transform="translate(387.88,1022.8) scale(1.0161,1)" style="paint-order:fill stroke">размеры</text></g>
<g font-size="27.4" stroke="#fff" stroke-width="0.55" font-weight="bold"><text transform="translate(95.67,1147) scale(1.0279,1)" style="paint-order:fill stroke">Крепёж</text><text transform="translate(207.86,1147) scale(0.9213,1)" style="paint-order:fill stroke">в</text><text transform="translate(231.21,1147) scale(1.0036,1)" style="paint-order:fill stroke">комплекте</text></g>
<g fill="none" stroke="#000" stroke-width="3.3" stroke-linecap="round" stroke-linejoin="round">
<path d="M68.3,1123.5 L79.3,1123.5 Q84.3,1123.5 84.3,1128.5 L84.3,1151 Q84.3,1156 79.3,1156 L56.8,1156 Q51.8,1156 51.8,1151 L51.8,1138.3"/>
<path d="M52,1124.4 L74.6,1146 M62.6,1146.3 L75,1146.3 L75,1133.4"/>
</g>
</svg></body></html>
